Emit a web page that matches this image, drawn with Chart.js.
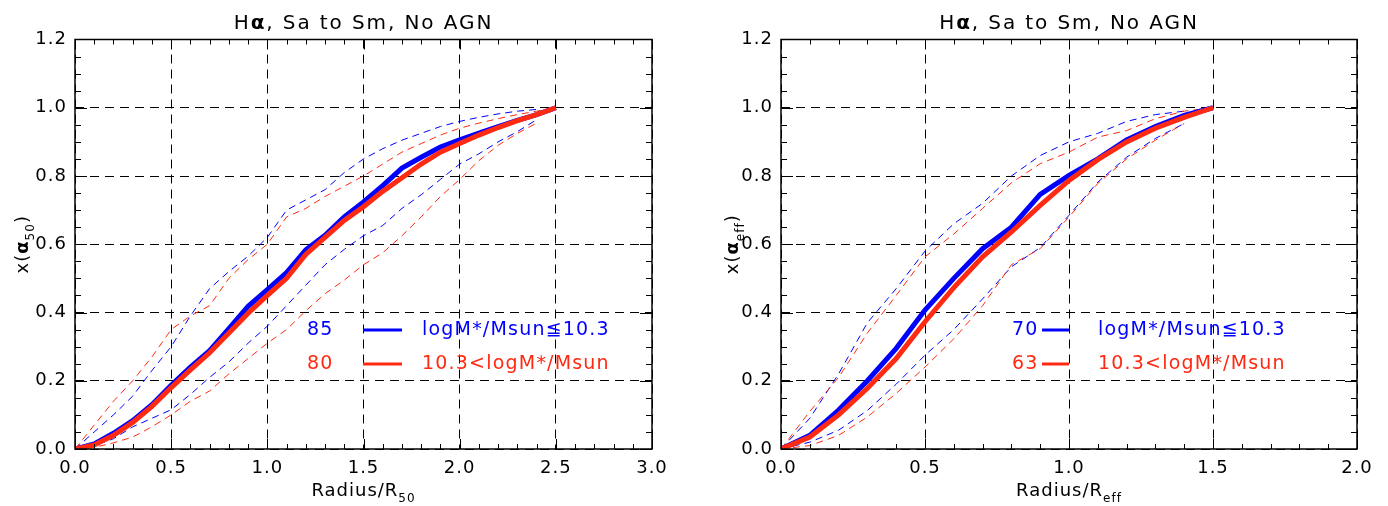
<!DOCTYPE html>
<html lang="en">
<head>
<meta charset="UTF-8">
<title>H-alpha cumulative profiles</title>
<script src="https://cdn.jsdelivr.net/npm/chart.js"></script>
<style>
  body { margin: 0; background: #fff; }
  .wrap { position: relative; width: 1388px; height: 506px; }
  canvas { position: absolute; top: 0; }
</style>
</head>
<body>
<div class="wrap">
  <canvas id="left" width="694" height="506" style="left:0"></canvas>
  <canvas id="right" width="694" height="506" style="left:694px"></canvas>
</div>
<script>
// radius grid, left panel (R/R50) and right panel (R/Reff)
const r50 = [0.0, 0.1, 0.2, 0.3, 0.4, 0.5, 0.6, 0.7, 0.8, 0.9, 1.0, 1.1, 1.2,
             1.3, 1.4, 1.5, 1.6, 1.7, 1.8, 1.9, 2.0, 2.1, 2.2, 2.3, 2.4, 2.5];
const reff = [0.0, 0.1, 0.2, 0.3, 0.4, 0.5, 0.6, 0.7, 0.8, 0.9, 1.0, 1.1, 1.2, 1.3, 1.4, 1.5];

// left panel: medians (solid) and spread (dashed)
const blue50   = [0, 0.015, 0.046, 0.083, 0.13, 0.187, 0.24, 0.288, 0.353, 0.418, 0.467, 0.517, 0.584,
                  0.626, 0.68, 0.724, 0.772, 0.823, 0.855, 0.885, 0.906, 0.926, 0.945, 0.963, 0.98, 1.0];
const red50    = [0, 0.012, 0.04, 0.078, 0.125, 0.18, 0.232, 0.282, 0.34, 0.398, 0.45, 0.5, 0.57,
                  0.62, 0.67, 0.71, 0.755, 0.795, 0.835, 0.87, 0.895, 0.92, 0.942, 0.962, 0.98, 1.0];
const blueHi50 = [0, 0.05, 0.1, 0.155, 0.23, 0.3, 0.39, 0.47, 0.52, 0.565, 0.62, 0.7, 0.73,
                  0.76, 0.81, 0.85, 0.88, 0.905, 0.925, 0.945, 0.96, 0.972, 0.982, 0.99, 0.995];
const blueLo50 = [0, 0.01, 0.03, 0.065, 0.09, 0.115, 0.16, 0.21, 0.255, 0.31, 0.36, 0.42, 0.48,
                  0.54, 0.585, 0.625, 0.655, 0.705, 0.745, 0.79, 0.835, 0.865, 0.9, 0.93, 0.965];
const redHi50  = [0, 0.07, 0.14, 0.2, 0.27, 0.35, 0.39, 0.42, 0.5, 0.555, 0.6, 0.68, 0.705,
                  0.74, 0.77, 0.8, 0.835, 0.87, 0.895, 0.92, 0.94, 0.955, 0.968, 0.98, 0.99, 1.0];
const redLo50  = [0, 0.005, 0.018, 0.035, 0.065, 0.1, 0.14, 0.17, 0.22, 0.265, 0.31, 0.35, 0.405,
                  0.455, 0.495, 0.54, 0.575, 0.625, 0.68, 0.74, 0.79, 0.845, 0.89, 0.925, 0.955];

// right panel
const blueEff   = [0, 0.04, 0.114, 0.2, 0.295, 0.407, 0.5, 0.587, 0.65, 0.746, 0.802, 0.85, 0.906, 0.945, 0.978, 1.0];
const redEff    = [0, 0.035, 0.1, 0.178, 0.265, 0.373, 0.473, 0.563, 0.636, 0.714, 0.787, 0.848, 0.9, 0.94, 0.972, 1.0];
const blueHiEff = [0, 0.09, 0.22, 0.37, 0.47, 0.58, 0.66, 0.72, 0.8, 0.86, 0.9, 0.925, 0.96, 0.98, 0.99];
const redHiEff  = [0, 0.11, 0.21, 0.34, 0.45, 0.563, 0.63, 0.705, 0.78, 0.836, 0.87, 0.914, 0.933, 0.968, 0.99, 1.0];
const blueLoEff = [0, 0.02, 0.055, 0.113, 0.19, 0.275, 0.35, 0.44, 0.534, 0.59, 0.685, 0.782, 0.855, 0.91, 0.954];
const redLoEff  = [0, 0.01, 0.04, 0.094, 0.163, 0.24, 0.323, 0.42, 0.54, 0.587, 0.68, 0.778, 0.85, 0.905, 0.954];

const leftCounts = ['85', '80'];
const rightCounts = ['70', '63'];
const massLabels = ['logM*/Msun\u226610.3', '10.3<logM*/Msun'];
const titleText = ['H', '\u03b1', ', Sa to Sm, No AGN'];

const BLUE = '#0000ff';
const RED = '#ff2a12';
const FONT = "'DejaVu Sans', sans-serif";

function pts(xs, ys) {
  return ys.map((v, i) => ({ x: xs[i], y: v }));
}

// draw a row of text pieces centred on cx
function drawRuns(ctx, runs, cx, base, spacing) {
  ctx.letterSpacing = spacing + 'px';
  let w = 0;
  runs.forEach(r => { ctx.font = r.font; w += ctx.measureText(r.t).width; });
  let x = cx - w / 2;
  ctx.textAlign = 'left';
  ctx.textBaseline = 'alphabetic';
  runs.forEach(r => {
    ctx.font = r.font;
    ctx.fillText(r.t, x, base + (r.dy || 0));
    x += ctx.measureText(r.t).width;
  });
}

const frame = {
  id: 'frame',
  beforeDraw(chart) {
    // wider spacing for the tick labels, like the plotting package's vector font
    chart.ctx.letterSpacing = '1px';
  },
  afterDraw(chart, args, o) {
    const { ctx, chartArea: a, scales: { x, y } } = chart;
    ctx.save();
    ctx.setLineDash([]);
    ctx.strokeStyle = '#000';
    ctx.fillStyle = '#000';

    // box
    ctx.lineWidth = 1.5;
    ctx.strokeRect(a.left, a.top, a.right - a.left, a.bottom - a.top);

    // inward ticks on all four sides
    ctx.lineWidth = 1;
    ctx.beginPath();
    const nx = Math.round(x.max / 0.1);
    for (let i = 0; i <= nx; i++) {
      const px = Math.round(x.getPixelForValue(i * 0.1)) + 0.5;
      const len = i % 5 === 0 ? 10 : 5;
      ctx.moveTo(px, a.bottom); ctx.lineTo(px, a.bottom - len);
      ctx.moveTo(px, a.top); ctx.lineTo(px, a.top + len);
    }
    const ny = Math.round(y.max / 0.05);
    for (let i = 0; i <= ny; i++) {
      const py = Math.round(y.getPixelForValue(i * 0.05)) + 0.5;
      const len = i % 4 === 0 ? 12 : 6;
      ctx.moveTo(a.left, py); ctx.lineTo(a.left + len, py);
      ctx.moveTo(a.right, py); ctx.lineTo(a.right - len, py);
    }
    ctx.stroke();

    const cx = (a.left + a.right) / 2;
    const big = '20px ' + FONT, bold = 'bold 20px ' + FONT;
    const mid = '18px ' + FONT, midB = 'bold 18px ' + FONT, sub = '12px ' + FONT;

    // title
    drawRuns(ctx, [
      { t: titleText[0], font: big },
      { t: titleText[1], font: bold },
      { t: titleText[2], font: big }
    ], cx, 29, 1.9);

    // x axis title
    drawRuns(ctx, [
      { t: 'Radius/R', font: mid },
      { t: o.sub, font: sub, dy: 6 }
    ], cx, 496, 1);

    // y axis title (rotated)
    ctx.save();
    ctx.translate(o.yTitleX, (a.top + a.bottom) / 2);
    ctx.rotate(-Math.PI / 2);
    drawRuns(ctx, [
      { t: 'x(', font: mid },
      { t: '\u03b1', font: midB },
      { t: o.sub, font: sub, dy: 6 },
      { t: ')', font: mid }
    ], 0, 6, 1);
    ctx.restore();

    // legend
    const L = o.legend;
    ctx.font = '19px ' + FONT;
    ctx.letterSpacing = '1.2px';
    ctx.textBaseline = 'middle';
    ctx.textAlign = 'left';
    [BLUE, RED].forEach((c, i) => {
      const ly = L.rows[i];
      ctx.fillStyle = c;
      ctx.strokeStyle = c;
      ctx.fillText(L.counts[i], L.numX, ly);
      ctx.lineWidth = 3;
      ctx.beginPath();
      ctx.moveTo(L.lineX[0], ly); ctx.lineTo(L.lineX[1], ly);
      ctx.stroke();
      ctx.fillText(massLabels[i], L.textX, ly);
    });
    ctx.restore();
  }
};

function solid(data, color) {
  return { data, borderColor: color, borderWidth: 5, pointRadius: 0, fill: false };
}
function dashed(data, color) {
  return { data, borderColor: color, borderWidth: 1, borderDash: [7, 5], pointRadius: 0, fill: false };
}

function makeChart(id, cfg) {
  return new Chart(document.getElementById(id), {
    type: 'line',
    data: { datasets: cfg.datasets },
    options: {
      responsive: false,
      animation: false,
      layout: { padding: { top: 39.5, right: cfg.padRight, left: 0, bottom: 0 } },
      elements: { line: { tension: 0 } },
      plugins: {
        legend: { display: false },
        tooltip: { enabled: false },
        frame: cfg.frame
      },
      scales: {
        x: {
          type: 'linear', min: 0, max: cfg.xmax,
          ticks: {
            stepSize: 0.5, color: '#000', padding: 9,
            font: { family: FONT, size: 18 },
            callback: v => v.toFixed(1)
          },
          grid: { color: '#000', lineWidth: 1, drawTicks: false },
          border: { display: false, dash: [9, 6] },
          afterFit: s => { s.height = 57; }
        },
        y: {
          type: 'linear', min: 0, max: 1.2,
          ticks: {
            stepSize: 0.2, color: '#000', padding: 8,
            font: { family: FONT, size: 18 },
            callback: v => v.toFixed(1)
          },
          grid: { color: '#000', lineWidth: 1, drawTicks: false },
          border: { display: false, dash: [9, 6] },
          afterFit: s => { s.width = cfg.yWidth; }
        }
      }
    },
    plugins: [frame]
  });
}

makeChart('left', {
  xmax: 3,
  yWidth: 75,
  padRight: 42,
  datasets: [
    solid(pts(r50, red50), RED),
    solid(pts(r50, blue50), BLUE),
    dashed(pts(r50, redHi50), RED),
    dashed(pts(r50, redLo50), RED),
    dashed(pts(r50, blueHi50), BLUE),
    dashed(pts(r50, blueLo50), BLUE)
  ],
  frame: {
    sub: '50',
    yTitleX: 22,
    legend: { counts: leftCounts, rows: [330, 364], numX: 307, lineX: [363, 402], textX: 422 }
  }
});

makeChart('right', {
  xmax: 2,
  yWidth: 87,
  padRight: 31,
  datasets: [
    solid(pts(reff, redEff), RED),
    solid(pts(reff, blueEff), BLUE),
    dashed(pts(reff, redHiEff), RED),
    dashed(pts(reff, redLoEff), RED),
    dashed(pts(reff, blueHiEff), BLUE),
    dashed(pts(reff, blueLoEff), BLUE)
  ],
  frame: {
    sub: 'eff',
    yTitleX: 38,
    legend: { counts: rightCounts, rows: [330, 364], numX: 318, lineX: [348, 375], textX: 404 }
  }
});
</script>
</body>
</html>
